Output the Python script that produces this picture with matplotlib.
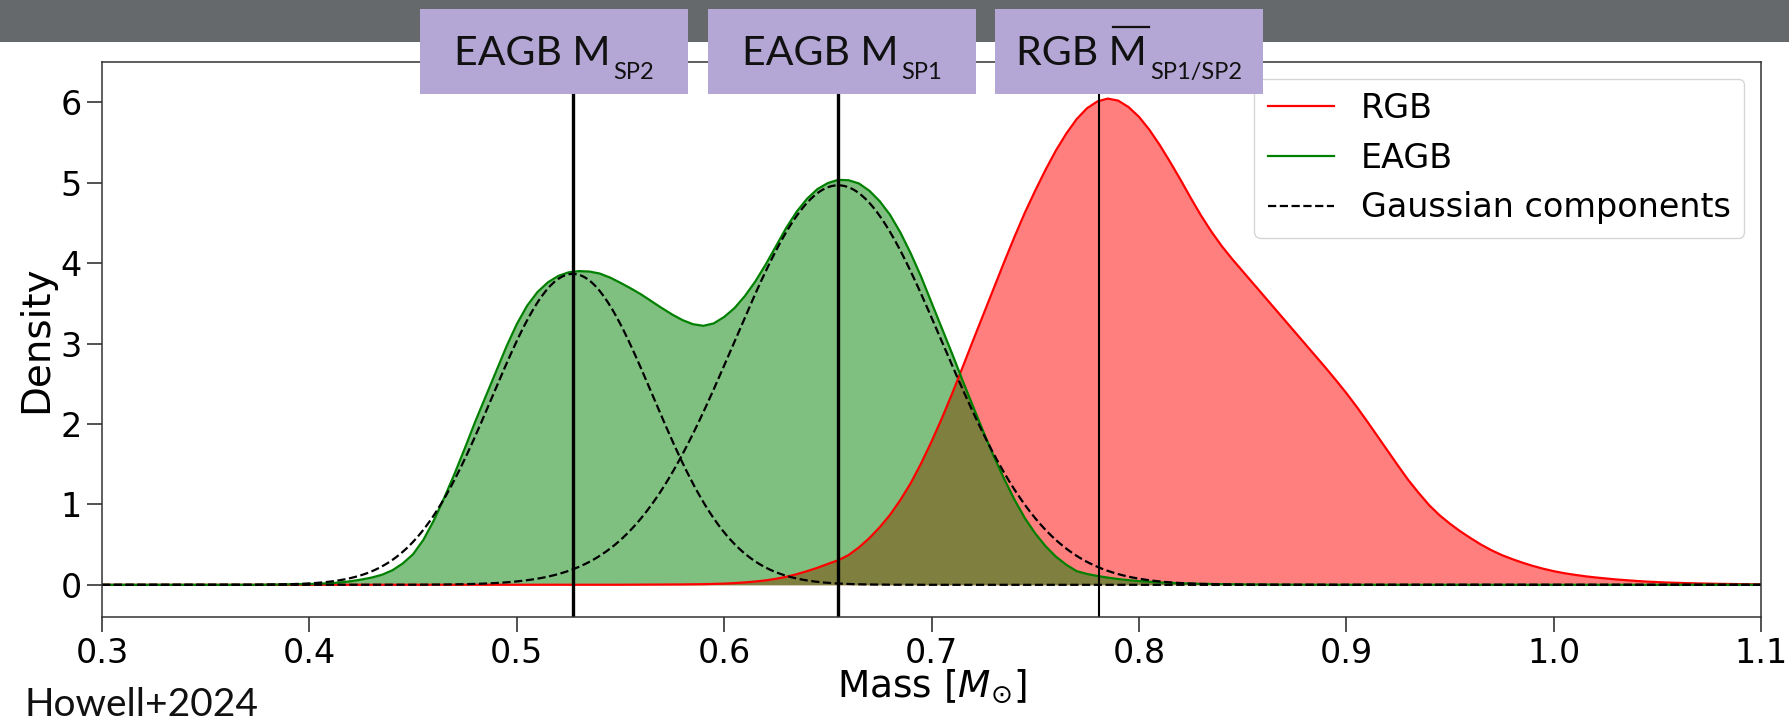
import numpy as np
import matplotlib.pyplot as plt
from matplotlib.patches import Rectangle
from matplotlib.lines import Line2D

# KDE of the stellar masses, sampled every 0.005 Msun from 0.30 to 1.10
mass_grid = np.linspace(0.30, 1.10, 161)

rgb_density = [
    0, 0, 0, 0, 0, 0, 0, 0, 0, 0,                                             # 0.300-0.345
    0, 0, 0, 0, 0, 0, 0, 0, 0, 0,                                             # 0.350-0.395
    0, 0, 0, 0, 0, 0, 0, 0, 0, 0,                                             # 0.400-0.445
    0, 0, 0, 0, 0, 0, 0, 0, 0, 0,                                             # 0.450-0.495
    0, 0, 0, 0, 0, 0, 0, 0, 0, 0,                                             # 0.500-0.545
    0.001, 0.0015, 0.002, 0.0025, 0.003, 0.004, 0.005, 0.0065, 0.008, 0.011,  # 0.550-0.595
    0.015, 0.021, 0.030, 0.041, 0.055, 0.075, 0.100, 0.132, 0.170, 0.212,     # 0.600-0.645
    0.260, 0.305, 0.370, 0.465, 0.580, 0.715, 0.870, 1.055, 1.265, 1.510,     # 0.650-0.695
    1.780, 2.070, 2.380, 2.705, 3.035, 3.360, 3.685, 4.010, 4.325, 4.625,     # 0.700-0.745
    4.900, 5.160, 5.400, 5.610, 5.790, 5.925, 6.010, 6.045, 6.020, 5.940,     # 0.750-0.795
    5.820, 5.660, 5.470, 5.260, 5.040, 4.810, 4.590, 4.390, 4.210, 4.050,     # 0.800-0.845
    3.900, 3.750, 3.600, 3.450, 3.300, 3.150, 3.000, 2.850, 2.700, 2.545,     # 0.850-0.895
    2.385, 2.215, 2.035, 1.850, 1.665, 1.480, 1.300, 1.140, 0.990, 0.865,     # 0.900-0.945
    0.760, 0.665, 0.580, 0.500, 0.430, 0.370, 0.320, 0.275, 0.235, 0.200,     # 0.950-0.995
    0.170, 0.145, 0.125, 0.107, 0.092, 0.079, 0.067, 0.057, 0.048, 0.040,     # 1.000-1.045
    0.034, 0.028, 0.024, 0.020, 0.017, 0.014, 0.012, 0.010, 0.008, 0.007,     # 1.050-1.095
    0.006,                                                                    # 1.100
]

eagb_density = [
    0, 0, 0, 0, 0, 0, 0, 0, 0, 0,                                             # 0.300-0.345
    0, 0, 0, 0, 0, 0, 0.002, 0.003, 0.005, 0.007,                             # 0.350-0.395
    0.010, 0.014, 0.020, 0.030, 0.045, 0.065, 0.090, 0.125, 0.180, 0.265,     # 0.400-0.445
    0.380, 0.560, 0.800, 1.080, 1.380, 1.700, 2.030, 2.340, 2.650, 2.960,     # 0.450-0.495
    3.240, 3.470, 3.640, 3.760, 3.840, 3.885, 3.900, 3.895, 3.870, 3.820,     # 0.500-0.545
    3.755, 3.685, 3.610, 3.525, 3.440, 3.360, 3.290, 3.240, 3.220, 3.250,     # 0.550-0.595
    3.330, 3.440, 3.590, 3.770, 3.980, 4.210, 4.440, 4.640, 4.800, 4.920,     # 0.600-0.645
    4.995, 5.035, 5.030, 4.990, 4.900, 4.770, 4.600, 4.380, 4.120, 3.830,     # 0.650-0.695
    3.510, 3.190, 2.870, 2.540, 2.220, 1.905, 1.600, 1.320, 1.060, 0.830,     # 0.700-0.745
    0.640, 0.480, 0.350, 0.250, 0.170, 0.135, 0.110, 0.090, 0.072, 0.058,     # 0.750-0.795
    0.047, 0.038, 0.030, 0.024, 0.019, 0.015, 0.012, 0.010, 0.008, 0.0065,    # 0.800-0.845
    0.005, 0.004, 0.003, 0.0025, 0.002, 0.0015, 0.001, 0.0005, 0, 0,          # 0.850-0.895
    0, 0, 0, 0, 0, 0, 0, 0, 0, 0,                                             # 0.900-0.945
    0, 0, 0, 0, 0, 0, 0, 0, 0, 0,                                             # 0.950-0.995
    0, 0, 0, 0, 0, 0, 0, 0, 0, 0,                                             # 1.000-1.045
    0, 0, 0, 0, 0, 0, 0, 0, 0, 0,                                             # 1.050-1.095
    0,                                                                        # 1.100
]

# two-component gaussian mixture fitted to the EAGB masses
gmm_means = [0.527, 0.655]
gmm_sigmas = [0.0387, 0.0502]
gmm_weights = [0.375, 0.625]

# mean masses marked with vertical lines
eagb_sp2_mass = 0.527
eagb_sp1_mass = 0.655
rgb_mean_mass = 0.781

W, H = 1789, 722
fig = plt.figure(figsize=(W / 100, H / 100), dpi=100)
ax = fig.add_axes([102 / W, 1 - 617 / H, (1761 - 102) / W, (617 - 62) / H])

ax.fill_between(mass_grid, rgb_density, color="red", alpha=0.5, lw=0)
ax.fill_between(mass_grid, eagb_density, color="green", alpha=0.5, lw=0)
ax.plot(mass_grid, rgb_density, color="red", lw=1.6, label="RGB")
ax.plot(mass_grid, eagb_density, color="green", lw=1.6, label="EAGB")

xs = np.linspace(0.30, 1.10, 801)
for i, (mu, sig, w) in enumerate(zip(gmm_means, gmm_sigmas, gmm_weights)):
    pdf = w / (sig * np.sqrt(2 * np.pi)) * np.exp(-0.5 * ((xs - mu) / sig) ** 2)
    ax.plot(xs, pdf, color="black", ls="--", lw=1.6,
            label="Gaussian components" if i == 0 else None)

ax.axvline(eagb_sp2_mass, color="black", lw=2.4)
ax.axvline(eagb_sp1_mass, color="black", lw=2.4)
ax.axvline(rgb_mean_mass, color="black", lw=1.5)

ax.set_xlim(0.3, 1.1)
ax.set_ylim(-0.4, 6.5)
ax.set_xticks(np.round(np.arange(0.3, 1.11, 0.1), 1))
ax.set_yticks(range(0, 7))
ax.tick_params(labelsize=24, length=11, width=1.2, color="#333333")
for s in ax.spines.values():
    s.set_linewidth(1.1)
    s.set_color("#333333")
ax.set_xlabel(r"Mass [$M_{\odot}$]", fontsize=27, labelpad=-2)
ax.set_ylabel("Density", fontsize=28, labelpad=4)
ax.legend(loc="upper right", fontsize=24, handlelength=2.0, labelspacing=0.5)

# slide header bar and label boxes
fig.patches.append(Rectangle((0, 1 - 42 / H), 1, 42 / H, transform=fig.transFigure,
                             facecolor="#65696c", edgecolor="none", zorder=1))

renderer = fig.canvas.get_renderer()


def box_label(left, right, main, sub, overbar=False):
    fig.patches.append(Rectangle((left / W, 1 - 94 / H), (right - left) / W, 85 / H,
                                 transform=fig.transFigure, facecolor="#b4a7d6",
                                 edgecolor="none", zorder=2))
    t1 = fig.text(0, 0, main, family="Lato", fontsize=29.5, color="#111111",
                  va="baseline", ha="left", zorder=3)
    t2 = fig.text(0, 0, sub, family="Lato", fontsize=17, color="#111111",
                  va="baseline", ha="left", zorder=3)
    w1 = t1.get_window_extent(renderer).width
    w2 = t2.get_window_extent(renderer).width
    gap = 3
    x0 = (left + right) / 2 - (w1 + gap + w2) / 2
    t1.set_position((x0 / W, 1 - 65 / H))
    t2.set_position(((x0 + w1 + gap) / W, 1 - 79 / H))
    if overbar:
        tm = fig.text(0, 0, "M", family="Lato", fontsize=29.5)
        wm = tm.get_window_extent(renderer).width
        tm.remove()
        xb0 = x0 + w1 - wm + 4
        xb1 = x0 + w1 + 2
        fig.lines.append(Line2D([xb0 / W, xb1 / W], [1 - 27 / H, 1 - 27 / H],
                                transform=fig.transFigure, color="#111111",
                                lw=1.6, zorder=3))


box_label(420, 688, "EAGB M", "SP2")
box_label(708, 976, "EAGB M", "SP1")
box_label(995, 1263, "RGB M", "SP1/SP2", overbar=True)

fig.text(25 / W, 1 - 716 / H, "Howell+2024", family="Lato", fontsize=28,
         color="#111111", va="baseline", ha="left")

fig.savefig("out.png", dpi=100)
